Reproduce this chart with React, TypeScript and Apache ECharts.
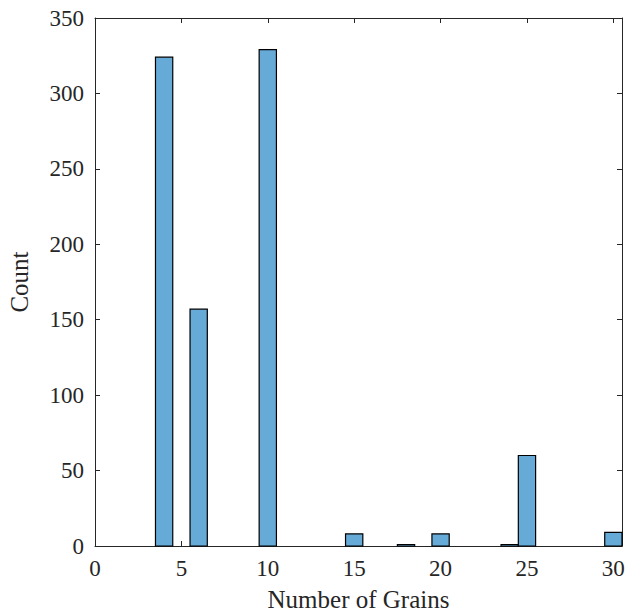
import React, { useEffect, useRef } from "react";
import * as echarts from "echarts";

const grains = [4, 6, 10, 15, 18, 20, 24, 25, 30];
const counts = [324, 157, 329, 8, 1, 8, 1, 60, 9];
const xTicks = [0, 5, 10, 15, 20, 25, 30];
const yTicks = [0, 50, 100, 150, 200, 250, 300, 350];

const FONT = "Liberation Serif";
const AX = "#262626";

export default function App() {
  const ref = useRef<HTMLDivElement>(null);
  useEffect(() => {
    if (!ref.current) return;
    const chart = echarts.init(ref.current, undefined, { renderer: "svg" });
    const data = grains.map((g, i) => [g, counts[i]]);
    const axLine = { show: true, onZero: false, lineStyle: { color: AX, width: 1 } };
    const tick = { show: true, inside: true, length: 5, lineStyle: { color: AX } };
    chart.setOption({
      animation: false,
      backgroundColor: "#ffffff",
      grid: {
        left: 95,
        right: 14,
        top: 18,
        bottom: 68,
        containLabel: false,
        outerBoundsMode: "none",
      },
      xAxis: [
        {
          type: "value",
          min: 0,
          max: 30.5,
          interval: 5,
          position: "bottom",
          name: "Number of Grains",
          nameLocation: "middle",
          nameGap: 41,
          nameMoveOverlap: false,
          nameTextStyle: { fontFamily: FONT, fontSize: 25, color: AX },
          axisLine: axLine,
          axisTick: tick,
          axisLabel: {
            fontFamily: FONT,
            fontSize: 23,
            color: AX,
            margin: 11,
            formatter: (v: number) => (xTicks.includes(v) ? String(v) : ""),
          },
          splitLine: { show: false },
        },
        {
          type: "value",
          min: 0,
          max: 30.5,
          interval: 5,
          position: "top",
          axisLine: axLine,
          axisTick: tick,
          axisLabel: { show: false },
          splitLine: { show: false },
        },
      ],
      yAxis: [
        {
          type: "value",
          min: 0,
          max: 350,
          interval: 50,
          position: "left",
          name: "Count",
          nameLocation: "middle",
          nameGap: 63,
          nameMoveOverlap: false,
          nameTextStyle: { fontFamily: FONT, fontSize: 25, color: AX },
          axisLine: axLine,
          axisTick: tick,
          axisLabel: {
            fontFamily: FONT,
            fontSize: 23,
            color: AX,
            margin: 11,
            formatter: (v: number) => (yTicks.includes(v) ? String(v) : ""),
          },
          splitLine: { show: false },
        },
        {
          type: "value",
          min: 0,
          max: 350,
          interval: 50,
          position: "right",
          axisLine: axLine,
          axisTick: tick,
          axisLabel: { show: false },
          splitLine: { show: false },
        },
      ],
      series: [
        {
          type: "custom",
          xAxisIndex: 0,
          yAxisIndex: 0,
          data,
          z: 1,
          renderItem: (params: any, api: any) => {
            const x = api.value(0);
            const y = api.value(1);
            const p0 = api.coord([x - 0.5, 0]);
            const p1 = api.coord([x + 0.5, y]);
            return {
              type: "rect",
              shape: { x: p0[0], y: p1[1], width: p1[0] - p0[0], height: p0[1] - p1[1] },
              style: { fill: "#66aad7", stroke: "#000000", lineWidth: 1.2 },
            };
          },
        },
      ],
    });
    return () => chart.dispose();
  }, []);
  return (
    <div
      ref={ref}
      style={{ position: "fixed", left: 0, top: 0, width: 636, height: 614 }}
    />
  );
}
